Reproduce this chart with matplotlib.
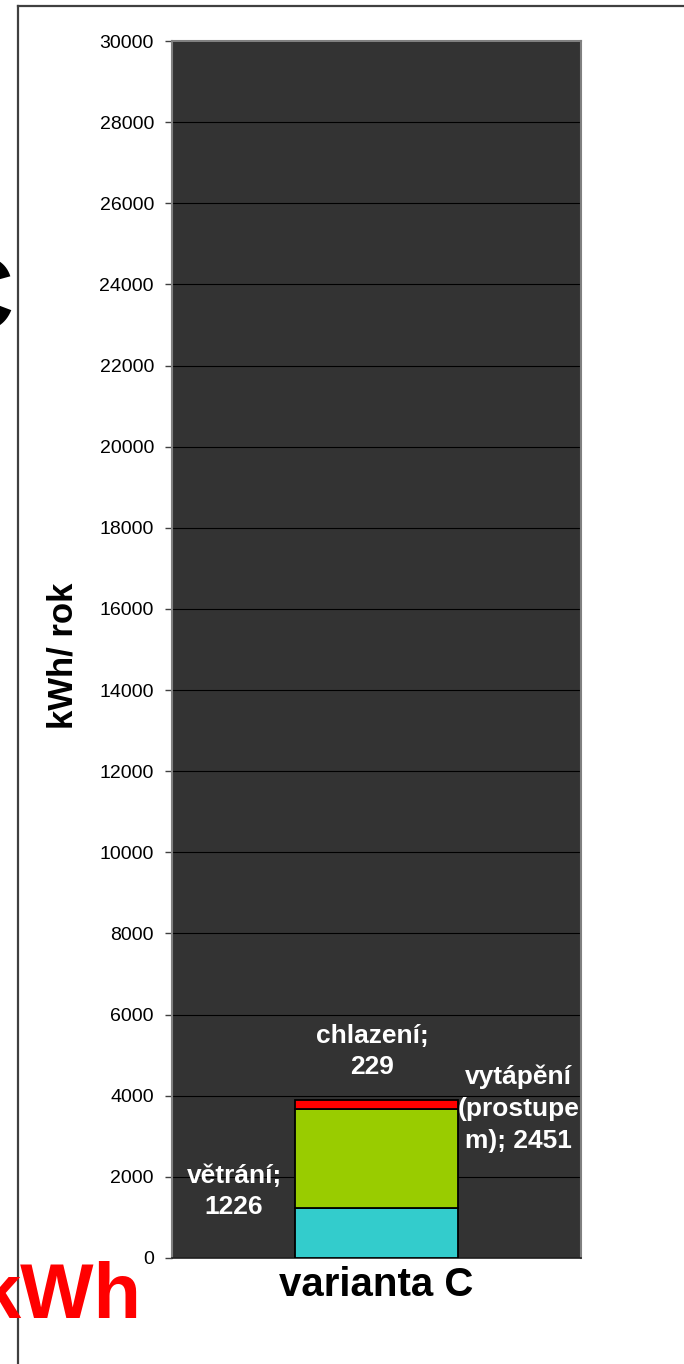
import matplotlib
matplotlib.use("Agg")
import matplotlib.pyplot as plt
from matplotlib.lines import Line2D

plt.rcParams["font.family"] = ["Liberation Sans", "DejaVu Sans"]

categories = ["varianta C"]
segment_names = ["větrání", "vytápění (prostupem)", "chlazení"]
vetrani = [1226]
vytapeni = [2451]
chlazeni = [229]
segment_colors = ["#33CCCC", "#99CC00", "#FF0000"]
y_ticks = list(range(0, 30001, 2000))

W, H = 684, 1364
fig = plt.figure(figsize=(W / 100, H / 100), dpi=100)
fig.patch.set_facecolor("white")

# outer chart frame (left and top edges only)
fig.add_artist(Line2D([18 / W, 18 / W], [0, 1 - 6 / H], transform=fig.transFigure,
                      color="#404040", lw=1.6))
fig.add_artist(Line2D([18 / W, 1], [1 - 6 / H, 1 - 6 / H], transform=fig.transFigure,
                      color="#404040", lw=1.6))

ax = fig.add_axes([172 / W, 1 - 1258 / H, 409 / W, 1217 / H])
ax.set_facecolor("#333333")

x = list(range(len(categories)))
bottom = [0] * len(categories)
for vals, col in zip([vetrani, vytapeni, chlazeni], segment_colors):
    ax.bar(x, vals, width=0.4, bottom=bottom, color=col, edgecolor="black",
           linewidth=1.3, zorder=3)
    bottom = [b + v for b, v in zip(bottom, vals)]

ax.set_xlim(-0.5, 0.5)
ax.set_ylim(0, 30000)
ax.set_yticks(y_ticks)
ax.set_yticklabels([str(t) for t in y_ticks], fontsize=14)
ax.tick_params(axis="y", length=5, width=1, color="#404040", pad=8)
ax.set_xticks(x)
ax.set_xticklabels(categories, fontsize=29, fontweight="bold")
ax.tick_params(axis="x", length=0, pad=6)
ax.grid(axis="y", color="black", linewidth=0.8, zorder=1)
ax.set_axisbelow(True)
for side in ["left", "right", "top"]:
    ax.spines[side].set_color("#808080")
    ax.spines[side].set_linewidth(1.5)
ax.spines["bottom"].set_color("#202020")
ax.spines["bottom"].set_linewidth(1.2)

ax.set_ylabel("kWh/ rok", fontsize=25, fontweight="bold")
ax.yaxis.set_label_coords(-0.225, 0.495)

# data labels
lab = dict(color="white", fontsize=19, fontweight="bold", ha="center",
           va="center", linespacing=1.4, zorder=4)
ax.text(-0.348, 1640, f"větrání;\n{vetrani[0]}", **lab)
ax.text(0.348, vetrani[0] + vytapeni[0], f"vytápění\n(prostupe\nm); {vytapeni[0]}", **lab)
ax.text(-0.01, 5090, f"chlazení;\n{chlazeni[0]}", **lab)

# large headings partly outside the frame
fig.text(14 / W, 1 - 330 / H, "C", fontsize=76, fontweight="bold",
         ha="right", va="baseline", color="black")
fig.text(142 / W, 1 - 1318 / H, "kWh", fontsize=56, fontweight="bold",
         ha="right", va="baseline", color="#FF0000")

fig.savefig("out.png", dpi=100)
